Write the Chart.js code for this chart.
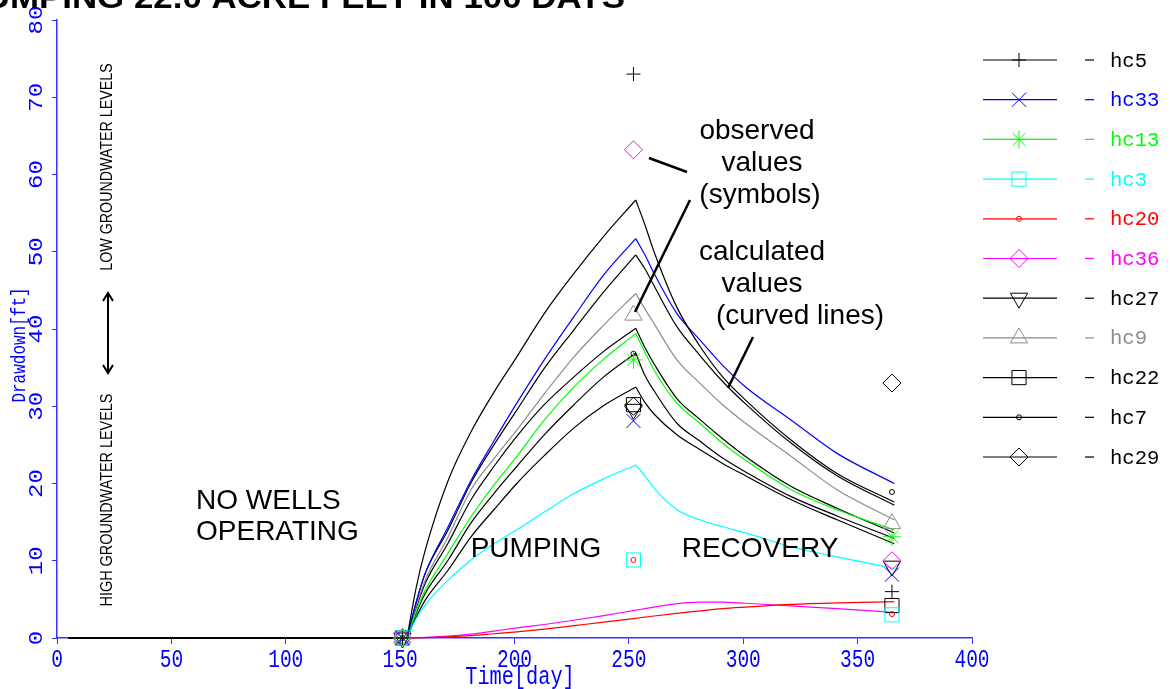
<!DOCTYPE html>
<html>
<head>
<meta charset="utf-8">
<script src="https://cdn.jsdelivr.net/npm/chart.js@4.4.1/dist/chart.umd.min.js"></script>
<style>
  html, body { margin: 0; padding: 0; background: #fff; }
  #wrap { width: 1172px; height: 689px; }
</style>
</head>
<body>
<div id="wrap"><canvas id="drawdown" width="1172" height="689"></canvas></div>
<script>
// days at which the model curves are sampled, and days of the field readings
const calcDays = [5, 153, 157, 161, 171, 181, 191, 201, 213, 226, 239, 253, 257, 261, 271, 281, 291, 301, 321, 341, 366];
const obsDays = [151, 252, 365];
// pumping runs from calcDays[1] to calcDays[11]
const pumpStart = 1;
const pumpEnd = 11;

const wells = ['hc5', 'hc33', 'hc13', 'hc3', 'hc20', 'hc36', 'hc27', 'hc9', 'hc22', 'hc7', 'hc29'];

// calculated drawdown [ft]
const calcHc5  = [0, 0, 6.5, 11.4, 20.4, 26.7, 31.8, 36.4, 42.0, 47.2, 52.0, 56.7, 53.5, 50.0, 42.8, 37.8, 33.8, 30.8, 25.6, 21.3, 17.6];
const calcHc33 = [0, 0, 4.6, 8.4, 14.4, 20.4, 25.5, 30.4, 36.0, 41.6, 47.0, 51.7, 49.6, 47.2, 42.0, 38.6, 35.3, 32.5, 28.2, 23.9, 20.0];
const calcHc13 = [0, 0, 3.4, 6.2, 11.0, 15.7, 19.8, 23.5, 28.2, 32.5, 36.1, 39.4, 37.0, 34.7, 30.4, 27.8, 25.2, 23.0, 19.2, 16.6, 14.0];
const calcHc3  = [0, 0, 2.5, 4.3, 7.5, 10.1, 12.2, 14.0, 16.3, 18.7, 20.6, 22.4, 21.0, 19.4, 16.6, 15.3, 14.4, 13.6, 11.8, 10.5, 9.0];
const calcHc20 = [0, 0, 0.02, 0.05, 0.15, 0.3, 0.55, 0.8, 1.15, 1.6, 2.05, 2.55, 2.7, 2.85, 3.2, 3.5, 3.8, 4.0, 4.35, 4.55, 4.7];
const calcHc36 = [0, 0, 0.03, 0.08, 0.25, 0.5, 0.9, 1.3, 1.75, 2.3, 2.9, 3.6, 3.8, 4.0, 4.45, 4.65, 4.65, 4.5, 4.15, 3.8, 3.3];
const calcHc27 = [0, 0, 3.2, 5.8, 10.1, 14.9, 18.7, 22.2, 26.3, 30.2, 33.8, 36.9, 34.0, 32.0, 27.8, 25.5, 23.3, 21.5, 18.3, 15.8, 12.9];
const calcHc9  = [0, 0, 4.1, 7.5, 13.1, 19.2, 23.2, 26.9, 31.6, 36.4, 40.5, 44.6, 42.6, 40.7, 36.0, 33.0, 30.2, 27.8, 23.5, 19.2, 15.3];
const calcHc22 = [0, 0, 2.7, 4.9, 8.8, 13.1, 16.6, 20.0, 23.6, 27.2, 30.1, 32.5, 30.5, 29.0, 26.3, 24.4, 22.6, 21.0, 17.9, 15.3, 12.2];
const calcHc7  = [0, 0, 4.6, 8.4, 14.0, 20.1, 25.0, 29.5, 34.9, 39.9, 44.8, 49.6, 47.8, 45.6, 40.3, 36.6, 33.2, 30.3, 25.2, 21.0, 17.2];
const calcHc29 = [0, 0, 3.9, 7.1, 12.3, 17.9, 22.2, 26.1, 30.2, 33.8, 37.1, 40.1, 37.6, 35.5, 31.0, 28.3, 25.8, 23.5, 19.6, 16.8, 13.6];

// observed drawdown [ft]
const obsHc5  = [0, 73.0, 6.0];
const obsHc33 = [0, 28.1, 8.2];
const obsHc13 = [0, 36.0, 13.1];
const obsHc3  = [0, 10.1, 3.0];
const obsHc20 = [0, 10.1, 3.1];
const obsHc36 = [0, 63.2, 10.0];
const obsHc27 = [0, 29.6, 9.3];
const obsHc9  = [0, 41.8, 14.8];
const obsHc22 = [0, 30.2, 4.2];
const obsHc7  = [0, 36.8, 18.9];
const obsHc29 = [0, 30.0, 33.0];

const xTickValues = [0, 50, 100, 150, 200, 250, 300, 350, 400];
const yTickValues = [0, 10, 20, 30, 40, 50, 60, 70, 80];

const calcSeries = [calcHc5, calcHc33, calcHc13, calcHc3, calcHc20, calcHc36, calcHc27, calcHc9, calcHc22, calcHc7, calcHc29];
const obsSeries = [obsHc5, obsHc33, obsHc13, obsHc3, obsHc20, obsHc36, obsHc27, obsHc9, obsHc22, obsHc7, obsHc29];

// marker / colour per well
const wellStyle = {
  hc5:  { color: '#000000', point: 'cross',    radius: 7 },
  hc33: { color: '#0000ff', point: 'crossRot', radius: 10 },
  hc13: { color: '#00ff00', point: 'star',     radius: 9 },
  hc3:  { color: '#00ffff', point: 'rect',     radius: 10 },
  hc20: { color: '#ff0000', point: 'circle',   radius: 2.5 },
  hc36: { color: '#ff00ff', point: 'rectRot',  radius: 9 },
  hc27: { color: '#000000', point: 'triangle', radius: 10, rotation: 180 },
  hc9:  { color: '#8c8c8c', point: 'triangle', radius: 10 },
  hc22: { color: '#000000', point: 'rect',     radius: 10 },
  hc7:  { color: '#000000', point: 'circle',   radius: 2.5 },
  hc29: { color: '#000000', point: 'rectRot',  radius: 9 }
};

const AXIS_BLUE = '#3333ff';
const TEXT_BLUE = '#0000ff';

const datasets = [];
wells.forEach((w, i) => {
  const st = wellStyle[w];
  datasets.push({
    label: w + ' observed',
    data: obsDays.map((d, k) => ({ x: d, y: obsSeries[i][k] })),
    showLine: false,
    pointStyle: st.point,
    pointRadius: st.radius,
    pointRotation: st.rotation || 0,
    pointBorderColor: st.color,
    pointBackgroundColor: 'rgba(0,0,0,0)',
    pointBorderWidth: 1,
    clip: false,
    order: 0
  });
});

// each calculated curve is drawn in three pieces (idle, pumping, recovery)
// so the corners at pump start and pump stop stay sharp
const pieces = [[0, pumpStart], [pumpStart, pumpEnd], [pumpEnd, calcDays.length - 1]];
wells.forEach((w, i) => {
  const st = wellStyle[w];
  pieces.forEach(([a, b]) => {
    const pts = [];
    for (let k = a; k <= b; k++) pts.push({ x: calcDays[k], y: calcSeries[i][k] });
    datasets.push({
      label: w,
      data: pts,
      showLine: true,
      borderColor: st.color,
      borderWidth: a === 0 ? 2 : 1.2,
      pointRadius: 0,
      cubicInterpolationMode: 'monotone',
      clip: false,
      order: 1
    });
  });
});

function drawText(ctx, text, x, y, o) {
  ctx.save();
  ctx.translate(x, y);
  if (o.rotate) ctx.rotate(o.rotate);
  ctx.scale(o.sx || 1, o.sy || 1);
  ctx.font = o.font;
  ctx.fillStyle = o.color || '#000';
  ctx.textAlign = o.align || 'center';
  ctx.textBaseline = o.baseline || 'middle';
  ctx.fillText(text, 0, 0);
  ctx.restore();
}

function line(ctx, x1, y1, x2, y2, color, width) {
  ctx.save();
  ctx.strokeStyle = color;
  ctx.lineWidth = width;
  ctx.beginPath();
  ctx.moveTo(x1, y1);
  ctx.lineTo(x2, y2);
  ctx.stroke();
  ctx.restore();
}

const decorations = {
  id: 'decorations',
  afterDraw(chart) {
    const ctx = chart.ctx;
    const xs = chart.scales.x, ys = chart.scales.y;
    const mono = '"Liberation Mono", "DejaVu Sans Mono", monospace';
    const sans = '"Liberation Sans", Arial, sans-serif';

    // axis tick labels and titles
    xTickValues.forEach(v => {
      drawText(ctx, String(v), xs.getPixelForValue(v), 667, { font: '26px ' + mono, sx: 0.75, baseline: 'alphabetic', color: TEXT_BLUE });
    });
    drawText(ctx, 'Time[day]', 520, 684, { font: '26px ' + mono, sx: 0.78, baseline: 'alphabetic', color: TEXT_BLUE });
    yTickValues.forEach(v => {
      drawText(ctx, String(v), 42, ys.getPixelForValue(v), { font: '20px ' + mono, sx: 1.2, rotate: -Math.PI / 2, baseline: 'alphabetic', color: TEXT_BLUE });
    });
    drawText(ctx, 'Drawdown[ft]', 25, 345, { font: '20px ' + mono, sx: 0.8, rotate: -Math.PI / 2, baseline: 'alphabetic', color: TEXT_BLUE });

    // title, cut off by the top edge
    drawText(ctx, 'PUMPING 22.0 ACRE FEET IN 100 DAYS', 625, 8, { font: 'bold 32px ' + sans, sx: 1.09, align: 'right', baseline: 'alphabetic' });

    // water level hint on the left
    drawText(ctx, 'LOW GROUNDWATER LEVELS', 108, 167, { font: '16px ' + sans, sx: 0.89, rotate: -Math.PI / 2 });
    drawText(ctx, 'HIGH GROUNDWATER LEVELS', 108, 500, { font: '16px ' + sans, sx: 0.9, rotate: -Math.PI / 2 });
    line(ctx, 108, 293, 108, 373, '#000', 2);
    ctx.save();
    ctx.strokeStyle = '#000';
    ctx.lineWidth = 2;
    ctx.beginPath();
    ctx.moveTo(103, 301); ctx.lineTo(108, 293); ctx.lineTo(113, 301);
    ctx.moveTo(103, 365); ctx.lineTo(108, 373); ctx.lineTo(113, 365);
    ctx.stroke();
    ctx.restore();

    // phase labels
    drawText(ctx, 'NO WELLS', 196, 501, { font: '28px ' + sans, align: 'left' });
    drawText(ctx, 'OPERATING', 196, 532, { font: '28px ' + sans, align: 'left' });
    drawText(ctx, 'PUMPING', 536, 549, { font: '28px ' + sans });
    drawText(ctx, 'RECOVERY', 760, 549, { font: '28px ' + sans });

    // callouts
    drawText(ctx, 'observed', 757, 131, { font: '28px ' + sans });
    drawText(ctx, 'values', 762, 163, { font: '28px ' + sans });
    drawText(ctx, '(symbols)', 760, 195, { font: '28px ' + sans });
    drawText(ctx, 'calculated', 762, 252, { font: '28px ' + sans });
    drawText(ctx, 'values', 762, 284, { font: '28px ' + sans });
    drawText(ctx, '(curved lines)', 800, 316, { font: '28px ' + sans });
    line(ctx, 649, 158, 687, 172, '#000', 2.5);
    line(ctx, 690, 200, 635, 312, '#000', 2.5);
    line(ctx, 753, 337, 728, 388, '#000', 2.5);

    // legend
    wells.forEach((w, i) => {
      const st = wellStyle[w];
      const y = 60 + i * 39.7;
      line(ctx, 983, y, 1057, y, st.color, 1.2);
      ctx.save();
      ctx.strokeStyle = st.color;
      ctx.fillStyle = 'rgba(0,0,0,0)';
      ctx.lineWidth = 1;
      Chart.helpers.drawPoint(ctx, { pointStyle: st.point, radius: st.radius, rotation: st.rotation || 0, borderWidth: 1 }, 1019, y);
      ctx.restore();
      line(ctx, 1085, y, 1094, y, st.color, 1.2);
      drawText(ctx, w, 1110, y + 6.5, { font: '20px ' + mono, sx: 1.03, align: 'left', baseline: 'alphabetic', color: st.color });
    });
  }
};

new Chart(document.getElementById('drawdown'), {
  type: 'scatter',
  data: { datasets: datasets },
  options: {
    responsive: false,
    animation: false,
    layout: { padding: { top: 20, right: 200, left: 0, bottom: 0 } },
    plugins: {
      legend: { display: false },
      tooltip: { enabled: false }
    },
    scales: {
      x: {
        type: 'linear',
        min: 0,
        max: 400,
        ticks: { stepSize: 50, display: false },
        grid: { drawOnChartArea: false, drawTicks: true, tickLength: 6, color: AXIS_BLUE },
        border: { color: AXIS_BLUE, width: 1.5 },
        afterFit(scale) { scale.height = 51; }
      },
      y: {
        type: 'linear',
        min: 0,
        max: 80,
        ticks: { stepSize: 10, display: false },
        grid: { drawOnChartArea: false, drawTicks: true, tickLength: 5, color: AXIS_BLUE },
        border: { color: AXIS_BLUE, width: 1.5 },
        afterFit(scale) { scale.width = 57; }
      }
    }
  },
  plugins: [decorations]
});
</script>
</body>
</html>
